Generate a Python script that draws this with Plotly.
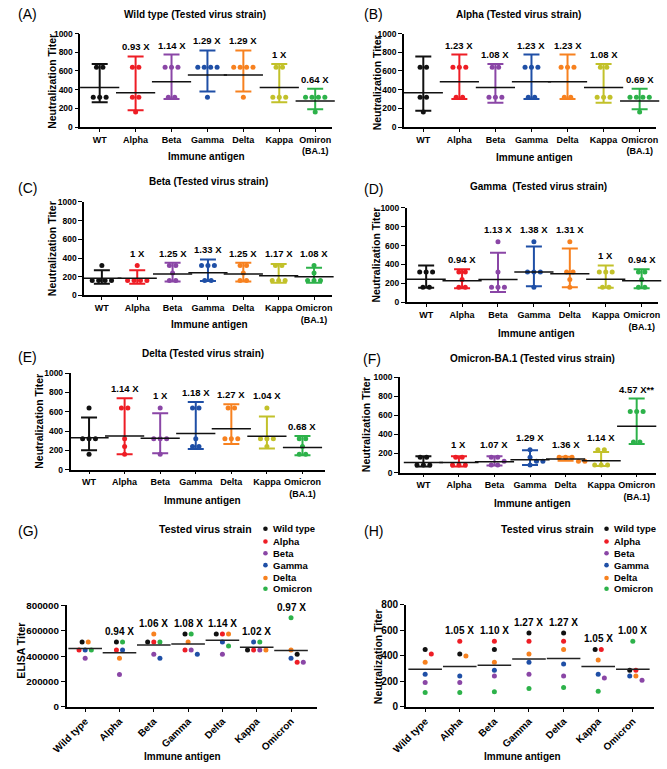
import math
import plotly.graph_objects as go

W, H = 667, 769
FONT = "Liberation Sans, Arial, sans-serif"

# ---------------- data ----------------
groups_AF = ["WT", "Alpha", "Beta", "Gamma", "Delta", "Kappa", "Omicron<br>(BA.1)"]
groups_A = ["WT", "Alpha", "Beta", "Gamma", "Delta", "Kappa", "Omiron<br>(BA.1)"]
groups_GH = ["Wild type", "Alpha", "Beta", "Gamma", "Delta", "Kappa", "Omicron"]
strains_GH = ["Wild type", "Alpha", "Beta", "Gamma", "Delta", "Omicron"]

group_colors = ["#111111", "#EE1D25", "#8A46A6", "#1F4FA6", "#F7811F", "#C2C12A", "#2DB24A"]
strain_colors = ["#111111", "#EE1D25", "#8A46A6", "#1F4FA6", "#F7811F", "#2DB24A"]

# (A) Wild type tested
A_points = [[640, 640, 320, 320, 320], [640, 640, 320, 320, 160], [640, 640, 640, 320, 320],
            [640, 640, 640, 640, 320], [640, 640, 640, 640, 320], [640, 640, 320, 320, 320],
            [320, 320, 320, 320, 160]]
A_mean = [422, 367, 485, 557, 557, 422, 279]
A_lo = [265, 180, 300, 380, 380, 265, 190]
A_hi = [675, 755, 775, 820, 820, 675, 410]
A_fold = ["", "0.93 X", "1.14 X", "1.29 X", "1.29 X", "1 X", "0.64 X"]

# (B) Alpha tested
B_points = [[640, 640, 320, 320, 160], [640, 640, 640, 320, 320], [640, 640, 320, 320, 320],
            [640, 640, 640, 320, 320], [640, 640, 640, 320, 320], [640, 640, 320, 320, 320],
            [320, 320, 320, 320, 160]]
B_mean = [367, 485, 422, 485, 485, 422, 279]
B_lo = [175, 300, 260, 300, 300, 260, 190]
B_hi = [755, 775, 675, 775, 775, 675, 410]
B_fold = ["", "1.23 X", "1.08 X", "1.23 X", "1.23 X", "1.08 X", "0.69 X"]

# (C) Beta tested
C_points = [[320, 160, 160, 160, 160], [320, 160, 160, 160, 160], [320, 320, 240, 160, 160],
            [320, 320, 320, 160, 160], [320, 320, 240, 160, 160], [320, 320, 160, 160, 160],
            [320, 240, 160, 160, 160]]
C_mean = [184, 184, 229, 243, 229, 211, 199]
C_lo = [125, 125, 150, 155, 150, 135, 135]
C_hi = [270, 270, 350, 385, 350, 335, 295]
C_fold = ["", "1 X", "1.25 X", "1.33 X", "1.25 X", "1.17 X", "1.08 X"]

# (D) Gamma tested
D_points = [[320, 320, 320, 160, 160], [320, 320, 240, 160, 160], [640, 320, 160, 160, 160],
            [640, 320, 320, 320, 160], [640, 320, 320, 240, 160], [320, 320, 320, 160, 160],
            [320, 320, 240, 160, 160]]
D_mean = [243, 229, 242, 320, 302, 243, 229]
D_lo = [155, 150, 110, 170, 160, 155, 150]
D_hi = [390, 350, 525, 590, 570, 390, 350]
D_fold = ["", "0.94 X", "1.13 X", "1.38 X", "1.31 X", "1 X", "0.94 X"]

# (E) Delta tested
E_points = [[640, 320, 320, 320, 160], [640, 640, 320, 240, 160], [640, 320, 320, 320, 160],
            [640, 640, 320, 240, 240], [640, 640, 320, 320, 320], [640, 320, 320, 320, 240],
            [320, 320, 240, 160, 160]]
E_mean = [330, 350, 325, 376, 425, 347, 229]
E_lo = [200, 160, 170, 215, 265, 220, 150]
E_hi = [540, 740, 585, 700, 678, 550, 350]
E_fold = ["", "1.14 X", "1 X", "1.18 X", "1.27 X", "1.04 X", "0.68 X"]

# (F) Omicron-BA.1 tested
F_points = [[160, 160, 80, 80, 80], [160, 160, 80, 80, 80], [160, 160, 120, 80, 80],
            [240, 160, 120, 120, 80], [160, 160, 160, 120, 120], [240, 240, 80, 80, 80],
            [640, 640, 640, 320, 320]]
F_mean = [106, 106, 114, 135, 143, 124, 485]
F_lo = [65, 65, 75, 80, 125, 70, 300]
F_hi = [170, 170, 170, 235, 165, 215, 775]
F_fold = ["", "1 X", "1.07 X", "1.29 X", "1.36 X", "1.14 X", "4.57 X**"]

# (G) ELISA titer, one list per tested strain across the 7 immune antigens
G_wt = [512000, 512000, 512000, 576000, 576000, 448000, 416000]
G_alpha = [448000, 448000, 512000, 448000, 576000, 448000, 352000]
G_beta = [384000, 256000, 416000, 448000, 416000, 448000, 352000]
G_gamma = [448000, 448000, 384000, 416000, 512000, 512000, 384000]
G_delta = [512000, 384000, 576000, 512000, 576000, 448000, 448000]
G_omicron = [448000, 512000, 512000, 576000, 480000, 512000, 704000]
G_mean = [460000, 427000, 489000, 497000, 525000, 471000, 445000]
G_fold = ["", "0.94 X", "1.06 X", "1.08 X", "1.14 X", "1.02 X", "0.97 X"]

# (H) Neutralization titer, one list per tested strain
H_wt = [449, 413, 449, 577, 577, 449, 287]
H_alpha = [413, 513, 513, 513, 513, 449, 287]
H_beta = [190, 190, 241, 256, 241, 226, 208]
H_gamma = [256, 241, 287, 349, 336, 256, 241]
H_delta = [349, 397, 349, 413, 449, 367, 241]
H_omicron = [113, 113, 118, 144, 151, 123, 513]
H_mean = [295, 315, 326, 374, 379, 315, 295]
H_fold = ["", "1.05 X", "1.10 X", "1.27 X", "1.27 X", "1.05 X", "1.00 X"]

# ---------------- layout helpers ----------------
# pixel boxes: (x_left, x_right, y_top, y_bottom, x_range, y_range)
BOX = {
    1: (67, 325, 28, 123, (-0.54, 6.46), (0, 1000)),
    2: (399, 658, 28, 123, (-0.54, 6.46), (0, 1000)),
    3: (71, 325, 199, 294, (-0.5, 6.5), (0, 1000)),
    4: (402, 660, 205, 301, (-0.54, 6.46), (0, 1000)),
    5: (57, 318, 373, 471, (-0.52, 6.63), (0, 1000)),
    6: (395, 658, 377, 474, (-0.66, 6.55), (0, 1000)),
    7: (53, 310, 609, 712, (-0.54, 6.76), (0, 800000)),
    8: (401, 656, 608, 712, (-0.56, 6.62), (0, 800)),
}

fig = go.Figure()
annotations = []
shapes = []


def ax_names(k):
    return ("x" if k == 1 else f"x{k}"), ("y" if k == 1 else f"y{k}")


def scales(k):
    x0, x1, yt, yb, xr, yr = BOX[k]
    return (x1 - x0) / (xr[1] - xr[0]), (yb - yt) / (yr[1] - yr[0])


def swarm(values, sx, sy, d):
    n = len(values)
    offs = [0.0] * n
    placed = []
    cands = [0.0]
    for j in range(1, 14):
        cands += [j * d / 2, -j * d / 2]
    for v in sorted(set(values), reverse=True):
        idx = [i for i in range(n) if values[i] == v]
        m = len(idx)
        base = [(j - (m - 1) / 2) * d for j in range(m)]
        yp = v * sy
        xs = base
        for c in cands:
            xs = [b + c for b in base]
            if all(math.hypot(x - px, yp - py) >= d * 0.9 for x in xs for (px, py) in placed):
                break
        for i, x in zip(idx, xs):
            offs[i] = x / sx
            placed.append((x, yp))
    return offs


def ann(text, px, py, size, bold=True, xanchor="center", yanchor="middle", angle=0):
    annotations.append(dict(
        text=("<b>%s</b>" % text) if bold else text,
        x=px / W, y=1 - py / H, xref="paper", yref="paper", showarrow=False,
        xanchor=xanchor, yanchor=yanchor, textangle=angle,
        font=dict(family=FONT, size=size, color="black")))


def setup_axes(k, ticktext, yticks, tickangle=0, cat_size=9, num_size=8.5):
    x0, x1, yt, yb, xr, yr = BOX[k]
    xn, yn = ax_names(k)
    xkey = "xaxis" if k == 1 else f"xaxis{k}"
    ykey = "yaxis" if k == 1 else f"yaxis{k}"
    fig.update_layout(**{
        xkey: dict(domain=[x0 / W, x1 / W], anchor=yn, range=list(xr),
                   tickmode="array", tickvals=list(range(7)), ticktext=ticktext,
                   tickangle=tickangle, showgrid=False, zeroline=False,
                   showline=True, linecolor="black", linewidth=1.5,
                   ticks="outside", ticklen=3, tickwidth=1.2, tickcolor="black",
                   tickfont=dict(family=FONT, size=cat_size, color="black", weight="bold")),
        ykey: dict(domain=[1 - yb / H, 1 - yt / H], anchor=xn, range=list(yr),
                   tickmode="array", tickvals=yticks, ticktext=[str(v) for v in yticks],
                   showgrid=False, zeroline=False,
                   showline=True, linecolor="black", linewidth=1.5,
                   ticks="outside", ticklen=4, tickwidth=1.2, tickcolor="black",
                   tickfont=dict(family=FONT, size=num_size, color="black", weight="bold")),
    })


def panel_AF(k, points, mean, lo, hi, fold, ticktext):
    xn, yn = ax_names(k)
    sx, sy = scales(k)
    setup_axes(k, ticktext, [0, 200, 400, 600, 800, 1000])
    for g in range(7):
        col = group_colors[g]
        offs = swarm(points[g], sx, sy, 6.6)
        fig.add_trace(go.Scatter(
            x=[g + o for o in offs], y=points[g], mode="markers", xaxis=xn, yaxis=yn,
            marker=dict(size=5, color=col, line=dict(width=0)), cliponaxis=False,
            hoverinfo="skip"))
        fig.add_trace(go.Scatter(
            x=[g], y=[mean[g]], mode="markers", xaxis=xn, yaxis=yn, cliponaxis=False,
            error_y=dict(type="data", symmetric=False, array=[hi[g] - mean[g]],
                         arrayminus=[mean[g] - lo[g]], color=col, thickness=2, width=8),
            marker=dict(symbol="line-ew", size=28, color="#111111",
                        line=dict(color="#111111", width=1.5)),
            hoverinfo="skip"))
        if fold[g]:
            top_px = max(hi[g] * sy, max(points[g]) * sy + 3)
            annotations.append(dict(
                text="<b>%s</b>" % fold[g], x=g, y=top_px / sy, xref=xn, yref=yn,
                showarrow=False, yanchor="bottom", yshift=2,
                font=dict(family=FONT, size=9.5, color="black")))


def panel_GH(k, series, mean, fold, yticks, num_size):
    xn, yn = ax_names(k)
    sx, sy = scales(k)
    setup_axes(k, groups_GH, yticks, tickangle=-45, cat_size=10, num_size=num_size)
    offsets = []
    for g in range(7):
        offsets.append(swarm([s[g] for s in series], sx, sy, 6.3))
    for si, s in enumerate(series):
        fig.add_trace(go.Scatter(
            x=[g + offsets[g][si] for g in range(7)], y=s, mode="markers",
            xaxis=xn, yaxis=yn, cliponaxis=False,
            marker=dict(size=5, color=strain_colors[si], line=dict(width=0)),
            hoverinfo="skip"))
    fig.add_trace(go.Scatter(
        x=list(range(7)), y=mean, mode="markers", xaxis=xn, yaxis=yn, cliponaxis=False,
        marker=dict(symbol="line-ew", size=24, color="#222222",
                    line=dict(color="#222222", width=1.5)),
        hoverinfo="skip"))
    for g in range(7):
        if fold[g]:
            top = max(s[g] for s in series)
            annotations.append(dict(
                text="<b>%s</b>" % fold[g], x=g, y=top, xref=xn, yref=yn,
                showarrow=False, yanchor="bottom", yshift=3,
                font=dict(family=FONT, size=10, color="black")))


panel_AF(1, A_points, A_mean, A_lo, A_hi, A_fold, groups_A)
panel_AF(2, B_points, B_mean, B_lo, B_hi, B_fold, groups_AF)
panel_AF(3, C_points, C_mean, C_lo, C_hi, C_fold, groups_AF)
panel_AF(4, D_points, D_mean, D_lo, D_hi, D_fold, groups_AF)
panel_AF(5, E_points, E_mean, E_lo, E_hi, E_fold, groups_AF)
panel_AF(6, F_points, F_mean, F_lo, F_hi, F_fold, groups_AF)
panel_GH(7, [G_wt, G_alpha, G_beta, G_gamma, G_delta, G_omicron], G_mean, G_fold,
         [0, 200000, 400000, 600000, 800000], 9.8)
panel_GH(8, [H_wt, H_alpha, H_beta, H_gamma, H_delta, H_omicron], H_mean, H_fold,
         [0, 200, 400, 600, 800], 10)

# panel letters
for t, px, py in [("(A)", 1, 8), ("(B)", 356, 8), ("(C)", 1, 185), ("(D)", 356, 186),
                  ("(E)", 1, 357), ("(F)", 355, 359), ("(G)", 1, 533), ("(H)", 356, 533)]:
    ann(t, px, py, 14, bold=False, xanchor="left")

# panel titles
for t, px, py in [("Wild type (Tested virus strain)", 185, 9),
                  ("Alpha (Tested virus strain)", 517, 9),
                  ("Beta (Tested virus strain)", 199, 178),
                  ("Gamma\u00a0 (Tested virus strain)", 537, 183),
                  ("Delta (Tested virus strain)", 193, 353),
                  ("Omicron-BA.1 (Tested virus strain)", 531, 358)]:
    ann(t, px, py, 10)

# y axis titles
for t, px, py in [("Neutralization Titer", 38, 77), ("Neutralization Titer", 371, 78),
                  ("Neutralization Titer", 38, 247), ("Neutralization Titer", 371, 253),
                  ("Neutralization Titer", 25, 422), ("Neutralization Titer", 361, 425),
                  ("Neutralization Titer", 372, 661)]:
    ann(t, px, py, 10.5, angle=-90)
ann("ELISA Titer", 6, 655, 10.5, angle=-90)

# x axis titles
for px, py in [(196, 153), (533, 154), (200, 324), (535, 333), (192, 502), (531, 505),
               (172, 762), (521, 762)]:
    ann("Immune antigen", px, py, 10)

# legends for G and H
item_y = [531, 544, 556, 568, 581, 592]
for tx, mx, lx in [(245, 257, 263), (596, 607, 613)]:
    ann("Tested virus strain", tx, item_y[0], 10.5, xanchor="right")
    for name, col, py in zip(strains_GH, strain_colors, item_y):
        shapes.append(dict(type="circle", xref="paper", yref="paper",
                           xsizemode="pixel", ysizemode="pixel",
                           xanchor=mx / W, yanchor=1 - py / H,
                           x0=-2.3, x1=2.3, y0=-2.3, y1=2.3,
                           fillcolor=col, line=dict(width=0)))
        ann(name, lx, py, 9.5, xanchor="left")

fig.update_layout(
    width=W, height=H, autosize=False,
    margin=dict(l=0, r=0, t=0, b=0),
    paper_bgcolor="white", plot_bgcolor="white",
    showlegend=False,
    annotations=annotations, shapes=shapes,
    font=dict(family=FONT, color="black"),
)

fig.write_html("out.html", config={"displayModeBar": False},
               post_script="document.body.style.margin='0';document.body.style.overflow='hidden';")
